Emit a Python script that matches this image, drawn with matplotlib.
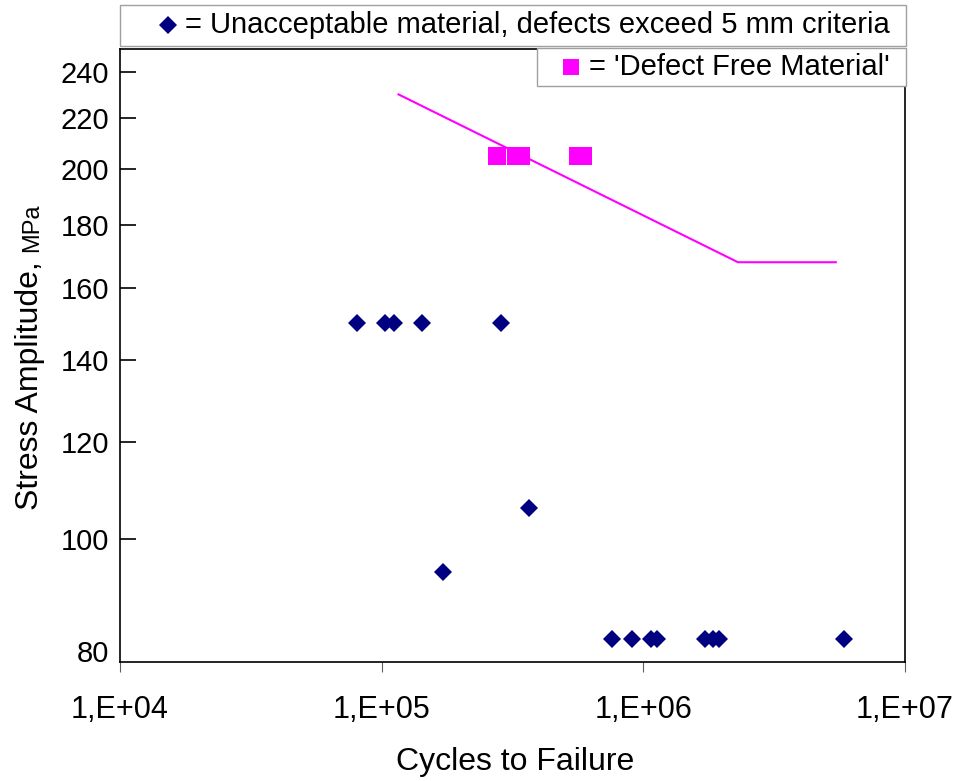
import matplotlib
matplotlib.use("Agg")
import matplotlib.pyplot as plt
from matplotlib.patches import Rectangle
from matplotlib.lines import Line2D
from matplotlib.ticker import FixedLocator, NullLocator
from matplotlib.transforms import ScaledTranslation

plt.rcParams['font.family'] = ['Liberation Sans', 'DejaVu Sans']

# Specimens that failed the 5 mm defect criterion
bad_cycles = [8.07e4, 1.027e5, 1.115e5, 1.42e5, 2.86e5,
              1.713e5, 3.66e5,
              7.61e5, 9.07e5, 1.073e6, 1.132e6, 1.728e6, 1.838e6, 1.94e6, 5.84e6]
bad_stress = [150, 150, 150, 150, 150,
              94, 106,
              83, 83, 83, 83, 83, 83, 83, 83]

# Defect-free specimens
good_cycles = [2.77e5, 3.25e5, 3.41e5, 5.61e5, 5.87e5]
good_stress = [205, 205, 205, 205, 205]

# Design curve for defect-free material
curve_cycles = [1.16e5, 2.3e6, 5.44e6]
curve_stress = [230, 168, 168]

y_ticks = [80, 100, 120, 140, 160, 180, 200, 220, 240]
x_ticks = [1e4, 1e5, 1e6, 1e7]
x_tick_labels = ['1,E+04', '1,E+05', '1,E+06', '1,E+07']

W, H = 963, 781
fig = plt.figure(figsize=(W / 100, H / 100), dpi=100)
ax = fig.add_axes([120 / W, 1 - 662 / H, (905 - 120) / W, (662 - 49) / H])

ax.set_xscale('log')
ax.set_yscale('log')
ax.set_xlim(1e4, 1e7)
ax.set_ylim(79.5, 250.4)

ax.plot(curve_cycles, curve_stress, color='#ff00ff', lw=1.5, zorder=2)
ax.plot(good_cycles, good_stress, ls='none', marker='s', ms=13.2,
        color='#ff00ff', mew=0, zorder=3)
ax.plot(bad_cycles, bad_stress, ls='none', marker='D', ms=9,
        color='#000080', mew=0, zorder=4)

ax.yaxis.set_major_locator(FixedLocator(y_ticks))
ax.yaxis.set_minor_locator(NullLocator())
ax.set_yticklabels([str(v) for v in y_ticks])
ax.xaxis.set_major_locator(FixedLocator(x_ticks))
ax.xaxis.set_minor_locator(NullLocator())
ax.set_xticklabels(x_tick_labels)

ax.tick_params(axis='y', direction='in', length=11.5, width=1.2,
               color='black', labelsize=21, pad=8)
ax.tick_params(axis='x', direction='out', length=7, width=0.8,
               color='#606060', labelsize=22, pad=17)
for s in ax.spines.values():
    s.set_linewidth(1.2)
    s.set_color('black')

# lift the bottom "80" label clear of the frame, hide its tick
first = ax.yaxis.get_major_ticks()[0]
first.label1.set_transform(first.label1.get_transform()
                           + ScaledTranslation(0, 8 / 100, fig.dpi_scale_trans))
first.tick1line.set_visible(False)

# Axis titles
fig.text(515 / W, 1 - 762 / H, 'Cycles to Failure', ha='center',
         va='center', fontsize=23)
t1 = fig.text(38 / W, 1 - 510 / H, 'Stress Amplitude, ', rotation=90,
              rotation_mode='anchor', ha='left', va='baseline', fontsize=23)
fig.canvas.draw()
bb = t1.get_window_extent()
fig.text(38 / W, bb.y1 / H, 'MPa', rotation=90, rotation_mode='anchor',
         ha='left', va='baseline', fontsize=17)

# Legend boxes
box1 = Rectangle((120 / W, 1 - 46 / H), (906 - 120) / W, 41 / H,
                 transform=fig.transFigure, facecolor='white',
                 edgecolor='#a0a0a0', lw=1.0, zorder=5)
box2 = Rectangle((537 / W, 1 - 86 / H), (906 - 537) / W, 38 / H,
                 transform=fig.transFigure, facecolor='white',
                 edgecolor='#a0a0a0', lw=1.0, zorder=5)
fig.add_artist(box1)
fig.add_artist(box2)

lt1 = fig.text(890 / W, 1 - 25 / H,
               '= Unacceptable material, defects exceed 5 mm criteria',
               ha='right', va='center', fontsize=21, zorder=6)
lt2 = fig.text(890 / W, 1 - 67 / H, "= 'Defect Free Material'",
               ha='right', va='center', fontsize=21, zorder=6)
fig.canvas.draw()
x1 = lt1.get_window_extent().x0
x2 = lt2.get_window_extent().x0
fig.add_artist(Line2D([(x1 - 17) / W], [1 - 25 / H], marker='D', ms=9,
                      color='#000080', mew=0, transform=fig.transFigure,
                      zorder=6))
fig.add_artist(Line2D([(x2 - 18) / W], [1 - 67 / H], marker='s', ms=12,
                      color='#ff00ff', mew=0, transform=fig.transFigure,
                      zorder=6))

fig.savefig('out.png', dpi=100)
